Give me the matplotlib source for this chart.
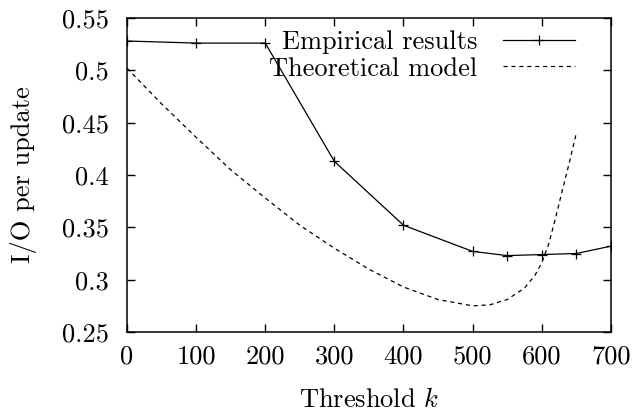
import matplotlib
matplotlib.use("Agg")
import matplotlib.pyplot as plt

# valeurs
k_emp = [0, 100, 200, 300, 400, 500, 550, 600, 650, 700]
io_emp = [0.528, 0.526, 0.526, 0.413, 0.352, 0.327, 0.323, 0.324, 0.325, 0.332]

k_model = [0, 50, 100, 150, 200, 250, 300, 350, 400, 450, 500, 525, 550, 575,
           590, 600, 610, 620, 630, 640, 650]
io_model = [0.502, 0.468, 0.436, 0.405, 0.378, 0.352, 0.330, 0.310, 0.293, 0.281,
            0.275, 0.276, 0.281, 0.292, 0.304, 0.316, 0.334, 0.359, 0.386, 0.412, 0.440]

xticks = [0, 100, 200, 300, 400, 500, 600, 700]
yticks = [0.25, 0.3, 0.35, 0.4, 0.45, 0.5, 0.55]
ytick_labels = ["0.25", "0.3", "0.35", "0.4", "0.45", "0.5", "0.55"]

plt.rcParams['font.family'] = 'cmr10'
plt.rcParams['mathtext.fontset'] = 'cm'
plt.rcParams['axes.formatter.use_mathtext'] = True
plt.rcParams['lines.scale_dashes'] = False

fs = 19

fig = plt.figure(figsize=(6.35, 4.18), dpi=100)
ax = fig.add_axes([0.2, 0.2057, 0.762, 0.7513])

ax.plot(k_emp, io_emp, color='black', lw=0.9, marker='+', markersize=7,
        markeredgewidth=0.9, label='Empirical results')
ax.plot(k_model, io_model, color='black', lw=0.9, dashes=(3, 2.7),
        label='Theoretical model')

ax.set_xlim(0, 700)
ax.set_ylim(0.25, 0.55)
ax.set_xticks(xticks)
ax.set_xticklabels([str(t) for t in xticks])
ax.set_yticks(yticks)
ax.set_yticklabels(ytick_labels)

ax.tick_params(direction='in', length=6, width=1.0, top=True, right=True,
               labelsize=fs)
ax.tick_params(axis='y', pad=13)
ax.tick_params(axis='x', pad=9)
for s in ax.spines.values():
    s.set_linewidth(1.1)

ax.set_xlabel('Threshold $k$', fontsize=fs, labelpad=14)
ax.set_ylabel('I/O per update', fontsize=fs, labelpad=18)

ax.legend(loc='upper right', bbox_to_anchor=(0.947, 0.995), frameon=False,
          markerfirst=False, fontsize=fs, handlelength=2.7,
          handletextpad=1.0, labelspacing=0.12, borderaxespad=0.0)

fig.savefig('out.png', dpi=100)
